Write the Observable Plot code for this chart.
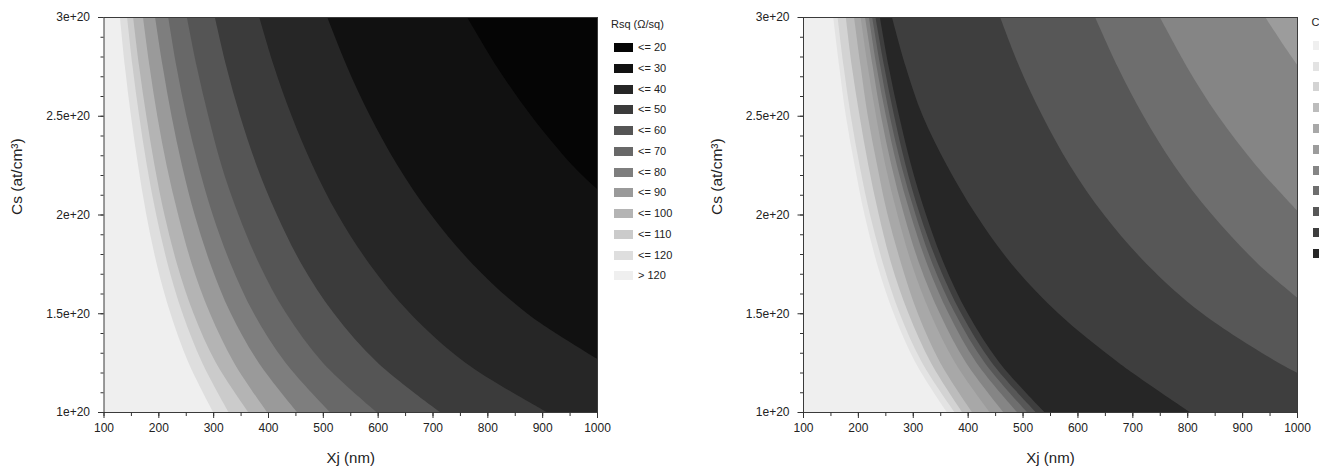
<!DOCTYPE html>
<html><head><meta charset="utf-8">
<script src="https://cdn.jsdelivr.net/npm/d3@7"></script>
<script src="https://cdn.jsdelivr.net/npm/@observablehq/plot@0.6"></script>
<style>
html,body{margin:0;padding:0;background:#fff;}
#wrap{position:relative;width:1319px;height:470px;overflow:hidden;font-family:"Liberation Sans",Arial,sans-serif;color:#222;}
.panel{position:absolute;top:0;}
.lg{position:absolute;font-size:11px;line-height:13px;white-space:nowrap;color:#222;}
.sw{position:absolute;width:19px;height:9px;}
</style></head><body><div id="wrap"></div>
<script>
// ---------- shared axes ----------
const xjDomain = [100, 1000];          // Xj (nm)
const csDomain = [1, 3];               // Cs in units of 1e20 at/cm³
const xjTicks = [100, 200, 300, 400, 500, 600, 700, 800, 900, 1000];
const csTicks = [1, 1.5, 2, 2.5, 3];

// ---------- left panel: Rsq (Ω/sq) contour boundaries, [Xj, Cs] ----------
const rsqLabels = ["<= 20", "<= 30", "<= 40", "<= 50", "<= 60", "<= 70", "<= 80", "<= 90", "<= 100", "<= 110", "<= 120", "> 120"];
const rsqColors = ["#050505", "#111111", "#262626", "#3b3b3b", "#555555", "#686868", "#7e7e7e", "#9a9a9a", "#b4b4b4", "#cbcbcb", "#dedede", "#efefef"];
const rsqEdge120 = [[300,1],[255,1.25],[222,1.5],[197,1.75],[178,2],[163,2.25],[150,2.5],[139,2.75],[130,3]];
const rsqEdge110 = [[328,1],[280,1.25],[244,1.5],[217,1.75],[196,2],[179,2.25],[165,2.5],[153,2.75],[143,3]];
const rsqEdge100 = [[364,1],[305,1.25],[264,1.5],[234,1.75],[211,2],[193,2.25],[178,2.5],[165,2.75],[154,3]];
const rsqEdge90  = [[398,1],[338,1.25],[294,1.5],[261,1.75],[236,2],[215,2.25],[198,2.5],[184,2.75],[172,3]];
const rsqEdge80  = [[453,1],[383,1.25],[332,1.5],[295,1.75],[266,2],[243,2.25],[224,2.5],[208,2.75],[194,3]];
const rsqEdge70  = [[513,1],[432,1.25],[374,1.5],[332,1.75],[299,2],[273,2.25],[251,2.5],[233,2.75],[218,3]];
const rsqEdge60  = [[598,1],[500,1.25],[433,1.5],[384,1.75],[346,2],[315,2.25],[291,2.5],[270,2.75],[252,3]];
const rsqEdge50  = [[714,1],[600,1.25],[520,1.5],[461,1.75],[416,2],[379,2.25],[349,2.5],[324,2.75],[303,3]];
const rsqEdge40  = [[908,1],[760,1.25],[659,1.5],[585,1.75],[527,2],[481,2.25],[443,2.5],[411,2.75],[384,3]];
const rsqEdge30  = [[1000,1.27],[872,1.5],[773,1.75],[697,2],[636,2.25],[586,2.5],[544,2.75],[508,3]];
const rsqEdge20  = [[1000,2.13],[955,2.25],[880,2.5],[817,2.75],[763,3]];

// ---------- right panel: boundaries, [Xj, Cs] ----------
const cColors = ["#efefef", "#e3e3e3", "#d3d3d3", "#bcbcbc", "#a8a8a8", "#9c9c9c", "#858585", "#6e6e6e", "#575757", "#3e3e3e", "#262626"];
const cRise2  = [[362,1],[305,1.25],[265,1.5],[235,1.75],[212,2],[194,2.25],[178,2.5],[166,2.75],[155,3]];
const cRise3  = [[376,1],[317,1.25],[276,1.5],[246,1.75],[222,2],[203,2.25],[187,2.5],[174,2.75],[163,3]];
const cRise4  = [[390,1],[333,1.25],[292,1.5],[261,1.75],[238,2],[219,2.25],[203,2.5],[189,2.75],[178,3]];
const cRise5  = [[408,1],[350,1.25],[309,1.5],[279,1.75],[254,2],[235,2.25],[218,2.5],[205,2.75],[193,3]];
const cRise6  = [[440,1],[377,1.25],[332,1.5],[298,1.75],[272,2],[250,2.25],[233,2.5],[218,2.75],[205,3]];
const cRise7  = [[465,1],[397,1.25],[349,1.5],[312,1.75],[284,2],[261,2.25],[242,2.5],[227,2.75],[213,3]];
const cRise8  = [[490,1],[416,1.25],[365,1.5],[326,1.75],[296,2],[271,2.25],[251,2.5],[234,2.75],[220,3]];
const cRise9  = [[508,1],[431,1.25],[377,1.5],[336,1.75],[305,2],[279,2.25],[258,2.5],[241,2.75],[226,3]];
const cRise10 = [[524,1],[444,1.25],[388,1.5],[346,1.75],[313,2],[287,2.25],[266,2.5],[248,2.75],[232,3]];
const cRise11 = [[540,1],[458,1.25],[400,1.5],[357,1.75],[324,2],[297,2.25],[275,2.5],[256,2.75],[240,3]];
const cFall10 = [[805,1],[675,1.25],[565,1.5],[480,1.75],[415,2],[362,2.25],[318,2.5],[287,2.75],[262,3]];
const cFall9  = [[1000,1.2],[966,1.25],[827,1.5],[726,1.75],[648,2],[586,2.25],[536,2.5],[494,2.75],[459,3]];
const cFall8  = [[1000,1.58],[929,1.75],[845,2],[776,2.25],[720,2.5],[673,2.75],[632,3]];
const cFall7  = [[1000,2.02],[925,2.25],[856,2.5],[799,2.75],[750,3]];
const cFall6  = [[1000,2.76],[975,2.86],[942,3]];

// ---------- build ----------
const wrap = document.getElementById("wrap");

function panel(layers, base, opts) {
  const bandMarks = layers.map(([edge, color]) =>
    Plot.areaX(edge, {x1: d => d[0], x2: xjDomain[1], y: d => d[1], fill: color, curve: "catmull-rom", clip: true}));
  return Plot.plot({
    width: opts.width, height: 470,
    marginLeft: opts.marginLeft, marginRight: opts.marginRight, marginTop: 17, marginBottom: 58,
    x: {domain: xjDomain},
    y: {domain: csDomain},
    style: {fontFamily: '"Liberation Sans", Arial, sans-serif', fontSize: "12px", color: "#222", background: "transparent", overflow: "visible"},
    marks: [
      Plot.frame({fill: base, stroke: null}),
      ...bandMarks,
      Plot.frame({stroke: "#3a3a3a"}),
      Plot.axisX({ticks: 18, tickSize: 4, tickFormat: () => "", stroke: "#333", label: null}),
      Plot.axisX({ticks: xjTicks, tickSize: 6, tickPadding: 5, tickFormat: d => String(d), stroke: "#333", label: null}),
      Plot.axisY({ticks: 20, tickSize: 3, tickFormat: () => "", stroke: "#333", label: null}),
      Plot.axisY({ticks: csTicks, tickSize: 5.5, tickPadding: 8.5, tickFormat: d => d + "e+20", stroke: "#333", label: null}),
      Plot.text(["Xj (nm)"], {text: d => d, frameAnchor: "bottom", dy: 50, fontSize: 15}),
      Plot.text(["Cs (at/cm³)"], {text: d => d, frameAnchor: "left", dx: -86.5, rotate: -90, fontSize: 15.5})
    ]
  });
}

// left
const leftLayers = [
  [rsqEdge120, rsqColors[10]], [rsqEdge110, rsqColors[9]], [rsqEdge100, rsqColors[8]],
  [rsqEdge90, rsqColors[7]], [rsqEdge80, rsqColors[6]], [rsqEdge70, rsqColors[5]],
  [rsqEdge60, rsqColors[4]], [rsqEdge50, rsqColors[3]], [rsqEdge40, rsqColors[2]],
  [rsqEdge30, rsqColors[1]], [rsqEdge20, rsqColors[0]]
];
const left = panel(leftLayers, rsqColors[11], {width: 700, marginLeft: 103.5, marginRight: 103});
left.classList.add("panel"); left.style.left = "0px";
wrap.appendChild(left);

// right
const rightLayers = [
  [cRise2, cColors[1]], [cRise3, cColors[2]], [cRise4, cColors[3]], [cRise5, cColors[4]],
  [cRise6, cColors[5]], [cRise7, cColors[6]], [cRise8, cColors[7]], [cRise9, cColors[8]],
  [cRise10, cColors[9]], [cRise11, cColors[10]],
  [cFall10, cColors[9]], [cFall9, cColors[8]], [cFall8, cColors[7]], [cFall7, cColors[6]], [cFall6, cColors[5]]
];
const right = panel(rightLayers, cColors[0], {width: 619, marginLeft: 103, marginRight: 22});
right.classList.add("panel"); right.style.left = "700px";
wrap.appendChild(right);

// legends
function addText(txt, x, cy) {
  const t = document.createElement("div");
  t.className = "lg"; t.textContent = txt;
  t.style.left = x + "px"; t.style.top = (cy - 6.5) + "px";
  wrap.appendChild(t);
}
function addSwatch(color, x, cy) {
  const s = document.createElement("div");
  s.className = "sw"; s.style.background = color;
  s.style.left = x + "px"; s.style.top = (cy - 4.5) + "px";
  wrap.appendChild(s);
}
addText("Rsq (Ω/sq)", 611, 24);
rsqLabels.forEach((lab, i) => {
  const cy = 47.5 + i * 20.75;
  addSwatch(rsqColors[i], 614, cy);
  addText(lab, 638, cy);
});
addText("C", 1311.5, 22);
cColors.forEach((c, i) => addSwatch(c, 1313, 45.3 + i * 20.8));
</script>
</body></html>
